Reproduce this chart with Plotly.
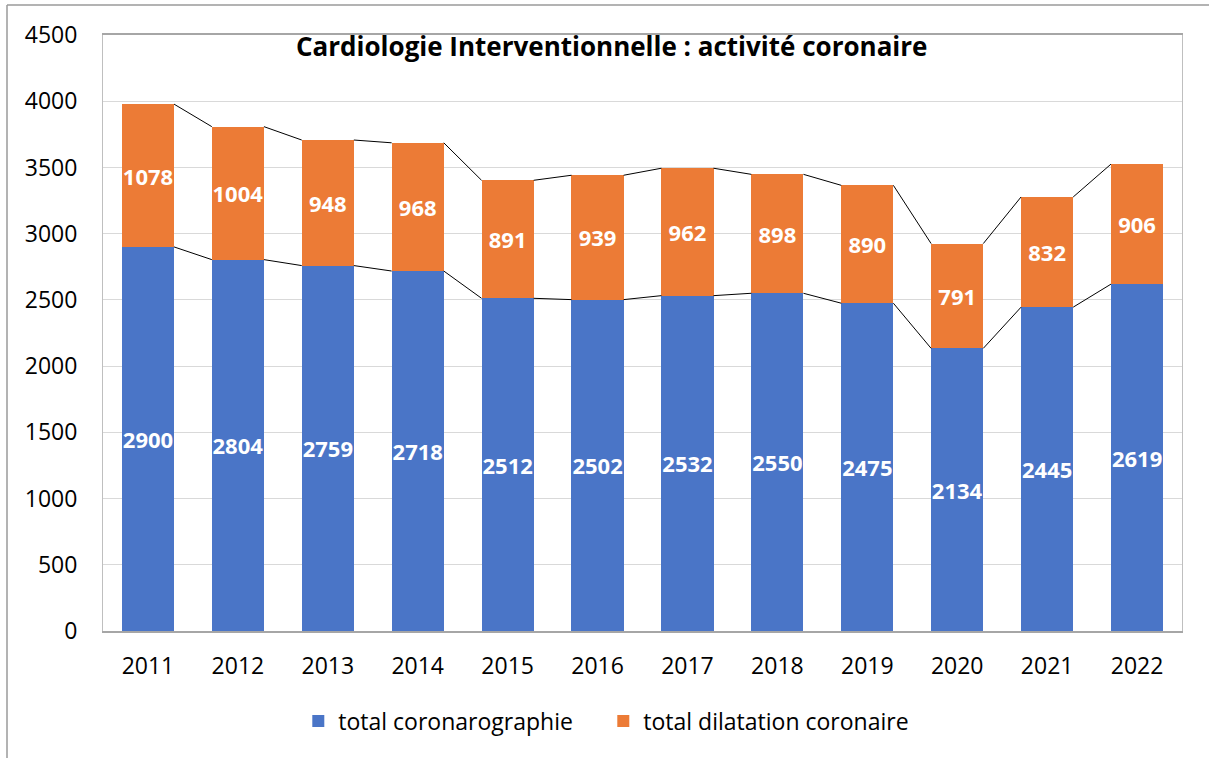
import plotly.graph_objects as go

years = ["2011", "2012", "2013", "2014", "2015", "2016", "2017", "2018", "2019", "2020", "2021", "2022"]
coronarographie = [2900, 2804, 2759, 2718, 2512, 2502, 2532, 2550, 2475, 2134, 2445, 2619]
dilatation = [1078, 1004, 948, 968, 891, 939, 962, 898, 890, 791, 832, 906]
y_ticks = [0, 500, 1000, 1500, 2000, 2500, 3000, 3500, 4000, 4500]

FONT = "Open Sans"
BAR_W = 0.58
xs = list(range(len(years)))

fig = go.Figure()
fig.add_trace(go.Bar(
    x=xs, y=coronarographie, name="total coronarographie", width=BAR_W,
    marker=dict(color="#4a75c7", line=dict(width=0)),
    text=coronarographie, textposition="inside", insidetextanchor="middle",
    textangle=0, constraintext="none",
    textfont=dict(family=FONT, size=22, color="white", weight="bold"),
))
fig.add_trace(go.Bar(
    x=xs, y=dilatation, name="total dilatation coronaire", width=BAR_W,
    marker=dict(color="#ec7b36", line=dict(width=0)),
    text=dilatation, textposition="inside", insidetextanchor="middle",
    textangle=0, constraintext="none",
    textfont=dict(family=FONT, size=22, color="white", weight="bold"),
))

# series lines connecting bar tops
totals = [a + b for a, b in zip(coronarographie, dilatation)]
for level in (coronarographie, totals):
    lx, ly = [], []
    for i in range(len(xs) - 1):
        lx += [xs[i] + BAR_W / 2, xs[i + 1] - BAR_W / 2, None]
        ly += [level[i], level[i + 1], None]
    fig.add_trace(go.Scatter(x=lx, y=ly, mode="lines", line=dict(color="black", width=1),
                             showlegend=False, hoverinfo="skip"))

border_x = (7 - 103) / 1079
border_y = (631 - 5) / 596
fig.update_layout(
    width=1209, height=758,
    margin=dict(l=103, r=27, t=35, b=127),
    barmode="stack",
    paper_bgcolor="white", plot_bgcolor="white",
    font=dict(family=FONT, color="black"),
    title=dict(text="<b>Cardiologie Interventionnelle : activité coronaire</b>",
               x=0.506, xanchor="center", y=1 - 47 / 758, yanchor="middle",
               font=dict(family=FONT, size=26, color="black")),
    legend=dict(orientation="h", x=0.181, xanchor="left", y=-0.151, yanchor="middle",
                font=dict(family=FONT, size=23, color="black"),
                traceorder="normal", itemwidth=30, entrywidth=260,
                borderwidth=0, bgcolor="rgba(0,0,0,0)"),
    xaxis=dict(tickvals=xs, ticktext=years, range=[-0.5, len(xs) - 0.5],
               showline=True, linecolor="#a6a6a6", linewidth=1.5, mirror=True,
               ticks="outside", ticklen=14, tickcolor="rgba(0,0,0,0)",
               tickfont=dict(family=FONT, size=23, color="black"),
               showgrid=False, zeroline=False),
    yaxis=dict(range=[0, 4500], tickvals=y_ticks,
               showline=True, linecolor="#bfbfbf", linewidth=1, mirror=True,
               gridcolor="#d9d9d9", gridwidth=1, ticks="outside", ticklen=20,
               tickcolor="rgba(0,0,0,0)",
               tickfont=dict(family=FONT, size=23, color="black"), zeroline=False),
    shapes=[
        dict(type="line", xref="paper", yref="paper", x0=border_x, x1=1.03,
             y0=border_y, y1=border_y, line=dict(color="#9a9a9a", width=1.5), layer="below"),
        dict(type="line", xref="paper", yref="paper", x0=border_x, x1=border_x,
             y0=-0.22, y1=border_y, line=dict(color="#9a9a9a", width=1.5), layer="below"),
    ],
)

fig.write_html("out.html", config={"displayModeBar": False},
               post_script="document.body.style.margin='0';document.body.style.overflow='hidden';")
